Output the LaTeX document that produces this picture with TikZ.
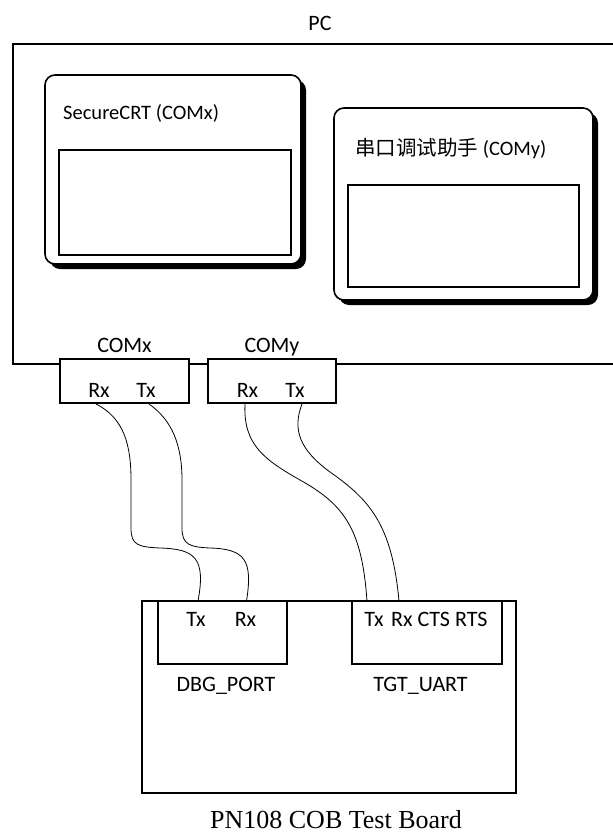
\documentclass[tikz,border=0pt]{standalone}
\usepackage{fontspec}
\setmainfont{Carlito}
\newfontfamily\cjk{Noto Sans CJK SC}
\newfontfamily\timesf{Liberation Serif}
\begin{document}
\begin{tikzpicture}[x=1pt,y=-1pt,
  lbl/.style={inner sep=0pt, anchor=base, font=\fontsize{22}{25}\selectfont},
  winlbl/.style={inner sep=0pt, anchor=base west, font=\fontsize{20.5}{24}\selectfont},
  boxline/.style={draw=black, line width=1.6pt},
  wire/.style={draw=black, line width=0.8pt},
  shadowbox/.style={fill=black, rounded corners=10pt},
  appbox/.style={draw=black, line width=1.6pt, fill=white, rounded corners=10pt}]
\useasboundingbox (0,0) rectangle (613,836);
\fill[white] (0,0) rectangle (613,836);

% PC
\node[lbl] (pclbl) at (320,30) {PC};
\draw[boxline] (13,44) rectangle (616,364);

% SecureCRT window
\fill[shadowbox] (50,80) rectangle (306,269);
\draw[appbox] (45,75) rectangle (301,264);
\node[winlbl] (crtlbl) at (63,119) {SecureCRT (COMx)};
\draw[boxline] (59,150) rectangle (291,255);

% Serial assistant window
\fill[shadowbox] (339,113) rectangle (598,305);
\draw[appbox] (334,108) rectangle (593,300);
\node[winlbl] (asslbl) at (355,155) {{\cjk 串口调试助手} (COMy)};
\draw[boxline] (348,185) rectangle (579,287);

% COM ports
\draw[boxline, fill=white] (60,359) rectangle (189,403);
\draw[boxline, fill=white] (208,359) rectangle (336,403);
\node[lbl] (comxlbl) at (124.5,352.5) {COMx};
\node[lbl] (comylbl) at (272,352.5) {COMy};
\node[lbl] (comxrx) at (99,397.5) {Rx};
\node[lbl] (comxtx) at (146,397.5) {Tx};
\node[lbl] (comyrx) at (247.5,397.5) {Rx};
\node[lbl] (comytx) at (295,397.5) {Tx};

\coordinate (pxr) at (96,404);
\coordinate (pxt) at (149,404);
\coordinate (pyr) at (245,404);
\coordinate (pyt) at (302,404);

% Board
\draw[boxline] (142,601) rectangle (516,793);
\draw[boxline] (158,601) rectangle (287,664);
\draw[boxline] (352,601) rectangle (502,664);
\node[lbl] (dbgtx) at (196,626.5) {Tx};
\node[lbl] (dbgrx) at (245.5,626.5) {Rx};
\node[lbl] (tgtpins) at (426,626) {Tx\,\,Rx CTS RTS};
\node[lbl] (dbglbl) at (226,691.5) {DBG\_PORT};
\node[lbl] (tgtlbl) at (420.5,691.5) {TGT\_UART};
\node[inner sep=0pt, anchor=base, font=\timesf\fontsize{26}{29}\selectfont] (title) at (336,828) {PN108 COB Test Board};

\coordinate (bdt) at (198,601);
\coordinate (bdr) at (246.5,601);
\coordinate (btt) at (367,601);
\coordinate (btr) at (399,601);

% wires
\draw[wire] (pxr) .. controls (124,418) and (131,445) .. (131,480) -- (131,528)
  .. controls (131,545) and (138,547) .. (160,548)
  .. controls (195,549) and (206,558) .. (bdt);
\draw[wire] (pxt) .. controls (172,420) and (182,445) .. (182,480) -- (182,528)
  .. controls (182,545) and (190,547) .. (210,548)
  .. controls (245,549) and (253,560) .. (bdr);
\draw[wire] (pyr) .. controls (243,445) and (265,460) .. (300,480)
  .. controls (345,505) and (362,530) .. (btt);
\draw[wire] (pyt) .. controls (292,430) and (300,450) .. (330,472)
  .. controls (370,500) and (392,525) .. (btr);
\end{tikzpicture}
\end{document}
